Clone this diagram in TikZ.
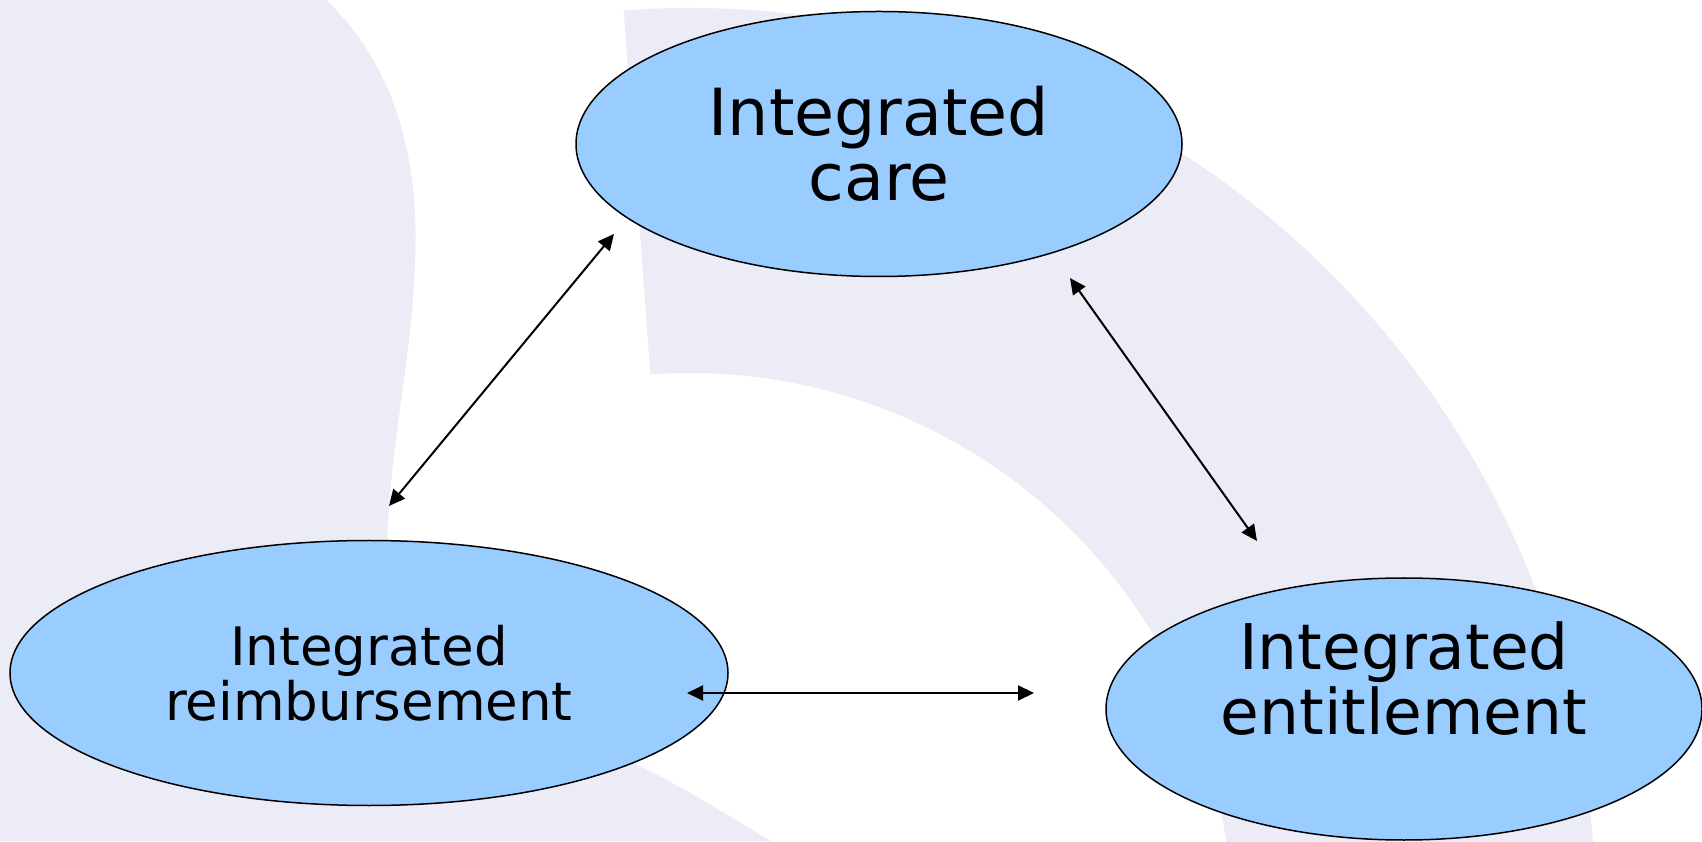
\documentclass[tikz,border=0pt]{standalone}
\usepackage{fontspec}
\setmainfont{DejaVu Sans}
\usetikzlibrary{shapes.geometric, arrows.meta}
\definecolor{bubbleblue}{HTML}{99CCFF}
\definecolor{backlilac}{HTML}{ECECF6}
\tikzstyle{bubble} = [ellipse, 
draw=black, 
line width=1.5pt, 
fill=bubbleblue, 
align=center, 
inner sep=0pt]
\tikzstyle{backdrop} = [fill=backlilac, draw=none]
\tikzstyle{arrow} = [line width=2pt,<->,>={Triangle[length=16pt, width=15pt]}]

\begin{document}
\begin{tikzpicture}[x=1pt, y=1pt]
\useasboundingbox (0,0) rectangle (1702,841);
\clip (0,0) rectangle (1702,841);

% pale shapes in the background
\fill [backdrop] (0,841) -- (326,841) .. controls (390,781) and (420,691) .. (415,581) .. controls (412,481) and (392,411) .. (387,301) -- (600,95) .. controls (680,55) .. (771,0) -- (0,0) -- cycle;
\fill [backdrop] (623.6,830.6) arc [start angle=94.2, end angle=0, radius=906] -- (1231,-73) arc [start angle=0, end angle=94.2, radius=541] -- cycle;

\node (care) [bubble, minimum width=606pt, minimum height=265pt, font=\fontsize{65}{65}\selectfont] at (879,697) {Integrated\\care};
\node (reimb) [bubble, minimum width=718pt, minimum height=265pt, font=\fontsize{53}{55}\selectfont] at (369,168) {Integrated\\reimbursement};
\node (entitle) [bubble, minimum width=596pt, minimum height=262pt, font=\fontsize{63}{65}\selectfont, text depth=62pt] at (1404,132) {Integrated\\entitlement};

\draw [arrow] ([shift={(20,167)}]reimb.center) -- ([shift={(-265,-90)}]care.center);
\draw [arrow] ([shift={(191,-134)}]care.center) -- ([shift={(-147,168)}]entitle.center);
\draw [arrow] ([shift={(318,-20)}]reimb.center) -- ([shift={(-370,16)}]entitle.center);

\end{tikzpicture}
\end{document}
